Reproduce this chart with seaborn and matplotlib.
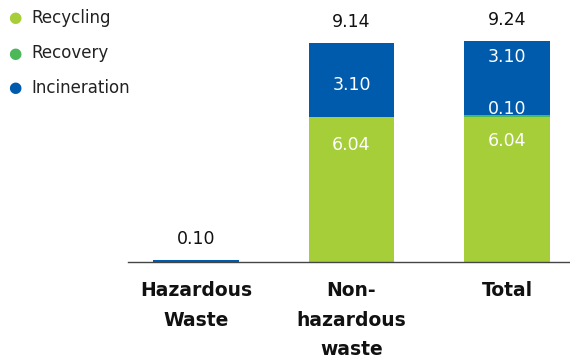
import numpy as np
import pandas as pd
import matplotlib
matplotlib.use("Agg")
import matplotlib.pyplot as plt
import seaborn as sns

categories = ["Hazardous\nWaste", "Non-\nhazardous\nwaste", "Total"]
recycling = [0.00, 6.04, 6.04]
recovery = [0.00, 0.00, 0.10]
incineration = [0.10, 3.10, 3.10]
totals = ["0.10", "9.14", "9.24"]

colors = {"Recycling": "#a6ce39", "Recovery": "#4cb85a", "Incineration": "#005bac"}

df = pd.DataFrame({"Category": categories, "Recycling": recycling,
                   "Recovery": recovery, "Incineration": incineration})

sns.set_theme(style="white")
plt.rcParams["font.family"] = ["DejaVu Sans"]

fig = plt.figure(figsize=(5.7, 3.61), dpi=100)
ax = fig.add_axes([128 / 570, 99 / 361, 442 / 570, 262 / 361])

bottom = np.zeros(len(df))
for series in ["Recycling", "Recovery", "Incineration"]:
    sns.barplot(data=df, x="Category", y=series, color=colors[series],
                width=0.547, bottom=bottom, ax=ax, saturation=1, linewidth=0)
    bottom = bottom + df[series].values

ax.set_xlim(-0.437, 2.405)
ax.set_ylim(0, 10.93)

# totals above the bars
for i, t in enumerate(totals):
    ax.annotate(t, (i, bottom[i]), xytext=(0, 15), textcoords="offset points",
                ha="center", va="center", fontsize=12.5, color="#111111")

# labels inside segments: (x, y value, offset in points)
inner = [
    (1, recycling[1], -20, "6.04"),
    (2, recycling[2] + recovery[2], -19, "6.04"),
    (2, recycling[2] + recovery[2], 4, "0.10"),
    (1, bottom[1], -30, "3.10"),
    (2, bottom[2], -12, "3.10"),
]
for x, y, dy, txt in inner:
    ax.annotate(txt, (x, y), xytext=(0, dy), textcoords="offset points",
                ha="center", va="center", fontsize=12.5, color="white")

ax.set_xlabel("")
ax.set_ylabel("")
ax.set_yticks([])
ax.tick_params(axis="x", length=0, pad=14)
ax.set_xticks(range(len(categories)))
ax.set_xticklabels(categories, fontsize=13.5, fontweight="bold", color="#111111",
                   linespacing=1.68, va="top")
for s in ["top", "right", "left"]:
    ax.spines[s].set_visible(False)
ax.spines["bottom"].set_color("#444444")
ax.spines["bottom"].set_linewidth(1.0)

# legend at top left
for name, y in zip(["Recycling", "Recovery", "Incineration"], [18, 53, 88]):
    fig.text(15 / 570, 1 - y / 361, "\u25cf", color=colors[name], fontsize=11,
             ha="center", va="center")
    fig.text(31 / 570, 1 - y / 361, name, color="#222222", fontsize=12,
             ha="left", va="center")

fig.savefig("out.png", dpi=100)
